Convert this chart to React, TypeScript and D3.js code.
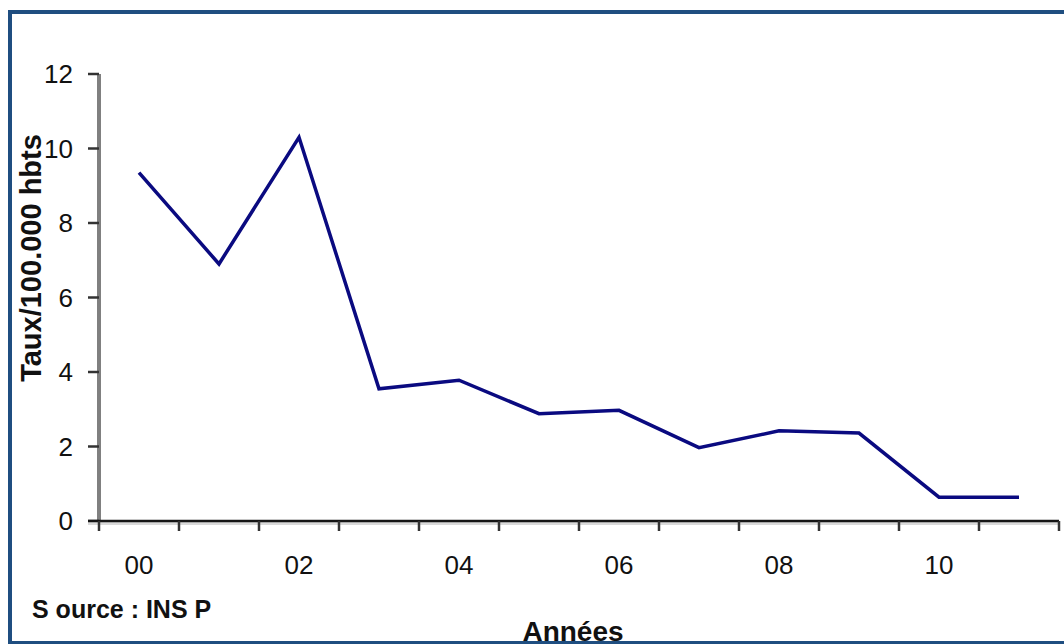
import React from "react";
import * as d3 from "d3";

const years = ["00", "01", "02", "03", "04", "05", "06", "07", "08", "09", "10", "11"];
const rates = [9.35, 6.9, 10.3, 3.55, 3.78, 2.88, 2.97, 1.97, 2.42, 2.36, 0.64, 0.64];
const yTicks = [0, 2, 4, 6, 8, 10, 12];
const xLabels = ["00", "02", "04", "06", "08", "10"];

const W = 1064;
const H = 644;
const left = 99;
const right = 1059;
const top = 74;
const bottom = 521;

export default function App() {
  const x = d3.scaleBand<string>().domain(years).range([left, right]).padding(0);
  const y = d3.scaleLinear().domain([0, 12]).range([bottom, top]);
  const line = d3
    .line<number>()
    .x((_, i) => (x(years[i]) as number) + x.bandwidth() / 2)
    .y((d) => y(d));
  const boundaries = years.map((yr) => x(yr) as number).concat([right]);
  const font = "'Liberation Sans', Arial, sans-serif";

  return (
    <svg
      width={W}
      height={H}
      style={{ position: "absolute", left: 0, top: 0, background: "#fff" }}
      fontFamily={font}
    >
      <rect x={10} y={12} width={W} height={H - 13} fill="#fff" stroke="#1f4e80" strokeWidth={4} />
      {/* y axis */}
      <line x1={left} x2={left} y1={top} y2={bottom} stroke="#808080" strokeWidth={4} />
      {yTicks.map((t) => (
        <g key={t}>
          <line x1={left - 11} x2={left} y1={y(t)} y2={y(t)} stroke="#333" strokeWidth={2.5} />
          <text x={73} y={y(t)} dy="0.36em" textAnchor="end" fontSize={26} fill="#111">
            {t}
          </text>
        </g>
      ))}
      {/* x axis */}
      <line x1={left - 11} x2={right} y1={bottom + 2} y2={bottom + 2} stroke="#d9d9d9" strokeWidth={4} />
      <line x1={left - 11} x2={right} y1={bottom} y2={bottom} stroke="#151515" strokeWidth={2.5} />
      {boundaries.map((b, i) => (
        <line key={i} x1={b} x2={b} y1={bottom} y2={bottom + 10} stroke="#333" strokeWidth={2.5} />
      ))}
      {xLabels.map((l) => (
        <text
          key={l}
          x={(x(l) as number) + x.bandwidth() / 2}
          y={565}
          dy="0.36em"
          textAnchor="middle"
          fontSize={26}
          fill="#111"
        >
          {l}
        </text>
      ))}
      <path d={line(rates) || ""} fill="none" stroke="#0a0a80" strokeWidth={3.5} strokeLinejoin="miter" />
      <text
        transform={`translate(41, 258) rotate(-90)`}
        textAnchor="middle"
        fontSize={29}
        fontWeight="bold"
        fill="#111"
      >
        Taux/100.000 hbts
      </text>
      <text x={32} y={618} fontSize={25} fontWeight="bold" fill="#111">
        S ource : INS P
      </text>
      <text x={573} y={641} textAnchor="middle" fontSize={28} fontWeight="bold" fill="#111">
        Années
      </text>
    </svg>
  );
}
